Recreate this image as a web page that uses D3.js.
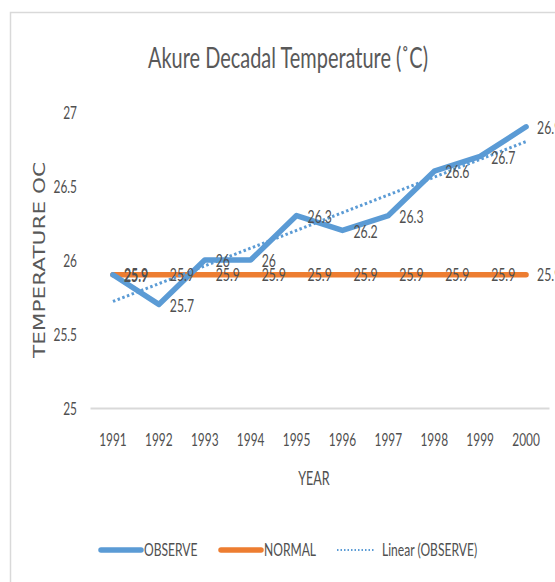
<html lang="en">
<head>
<script src="https://cdn.jsdelivr.net/npm/d3@7"></script>
</head>
<style>
body{margin:0;background:#fff;}
text{font-family:Lato,"Open Sans",sans-serif;}
</style>
<body>
<div id="drawarea"></div>
<script>
const years=["1991","1992","1993","1994","1995","1996","1997","1998","1999","2000"]
const observe=[25.9,25.7,26,26,26.3,26.2,26.3,26.6,26.7,26.9]
const normal=[25.9,25.9,25.9,25.9,25.9,25.9,25.9,25.9,25.9,25.9]
const yTicks=[25,25.5,26,26.5,27]

const W=555,H=582
const blue="#5B9BD5",orange="#ED7D31",txt="#505050"

// the reference font is tall and narrow (calibri, squeezed) -> squash glyphs horizontally
function squeeze(sel,k){
  sel.each(function(){
    const len=this.getComputedTextLength()
    d3.select(this).attr("textLength",len*k).attr("lengthAdjust","spacingAndGlyphs")
  })
}

const svg=d3.select("#drawarea").append("svg").attr("width",W).attr("height",H)

// chart frame
svg.append("path").attr("d","M10.5,"+H+"V12.5H"+W).attr("fill","none").attr("stroke","#d9d9d9").attr("stroke-width",1.5)

const x=d3.scaleBand().domain(years).range([90,549])
const y=d3.scaleLinear().domain([25,27]).range([408,112])
const cx=d=>x(d)+x.bandwidth()/2

// trend line (least squares of observe, like excel's linear trendline)
const n=observe.length
const mx=d3.mean(d3.range(n)),my=d3.mean(observe)
const slope=d3.sum(d3.range(n),i=>(i-mx)*(observe[i]-my))/d3.sum(d3.range(n),i=>(i-mx)*(i-mx))
const trend=d3.range(n).map(i=>my+slope*(i-mx))

// y axis labels
const ya=svg.append("g").attr("transform","translate(77,0)")
  .call(d3.axisLeft(y).tickValues(yTicks).tickSize(0).tickPadding(0).tickFormat(d=>d))
ya.select(".domain").remove()
ya.selectAll("text").attr("fill",txt).attr("dy","0.36em").style("font-size","18px").style("font-family","Lato, sans-serif")
squeeze(ya.selectAll("text"),0.66)

// x axis
const xa=svg.append("g").attr("transform","translate(0,408)")
  .call(d3.axisBottom(x).tickSize(0).tickPadding(0))
xa.select(".domain").attr("stroke","#d9d9d9").attr("stroke-width",2)
xa.selectAll("text").attr("y",38).attr("dy",0).attr("fill",txt).style("font-size","18px").style("font-family","Lato, sans-serif")
squeeze(xa.selectAll("text"),0.66)

const line=d3.line().x((d,i)=>cx(years[i])).y(d=>y(d))

svg.append("path").datum(normal).attr("d",line).attr("fill","none").attr("stroke",orange).attr("stroke-width",5.5).attr("stroke-linecap","round")
svg.append("path").datum(observe).attr("d",line).attr("fill","none").attr("stroke",blue).attr("stroke-width",5.5).attr("stroke-linecap","round").attr("stroke-linejoin","round")
svg.append("path").datum(trend).attr("d",line).attr("fill","none").attr("stroke",blue).attr("stroke-width",3).attr("stroke-dasharray","2.5,2.5")

// data labels
const nl=svg.append("g").selectAll("text").data(normal).join("text")
  .attr("x",(d,i)=>cx(years[i])+11).attr("y",d=>y(d)).attr("dy","0.36em")
  .attr("fill",txt).style("font-size","18px").text(d=>d)
squeeze(nl,0.68)
const ol=svg.append("g").selectAll("text").data(observe).join("text")
  .attr("x",(d,i)=>cx(years[i])+11).attr("y",d=>y(d)).attr("dy","0.4em")
  .attr("fill",txt).style("font-size","18px").text(d=>d)
squeeze(ol,0.68)

// titles
const title=svg.append("text").attr("x",288).attr("y",68).attr("text-anchor","middle").attr("fill","#595959")
  .style("font-size","28px").text("Akure Decadal Temperature (˚C)")
title.attr("textLength",280).attr("lengthAdjust","spacingAndGlyphs")
svg.append("text").attr("transform","translate(45,260) rotate(-90)").attr("text-anchor","middle").attr("fill","#595959")
  .style("font-size","16px").style("font-family","DejaVu Sans, sans-serif")
  .attr("textLength",196).attr("lengthAdjust","spacingAndGlyphs").text("TEMPERATURE OC")
const xt=svg.append("text").attr("x",314).attr("y",485).attr("text-anchor","middle").attr("fill",txt)
  .style("font-size","19px").text("YEAR")
squeeze(xt,0.66)

// legend
const leg=[{name:"OBSERVE",c:blue,w:5.5,dash:null,x:101,len:40},{name:"NORMAL",c:orange,w:5.5,dash:null,x:221,len:40},{name:"Linear (OBSERVE)",c:blue,w:2,dash:"1.5,2",x:337,len:38}]
const lg=svg.append("g").selectAll("g").data(leg).join("g").attr("transform",d=>"translate("+d.x+",550)")
lg.append("line").attr("x1",0).attr("x2",d=>d.len).attr("stroke",d=>d.c).attr("stroke-width",d=>d.w)
  .attr("stroke-dasharray",d=>d.dash).attr("stroke-linecap",d=>d.dash?"butt":"round")
const lt=lg.append("text").attr("x",d=>d.dash?45:43).attr("dy","0.36em").attr("fill",txt).style("font-size","17.5px").text(d=>d.name)
squeeze(lt,0.69)
</script>
</body>
</html>
